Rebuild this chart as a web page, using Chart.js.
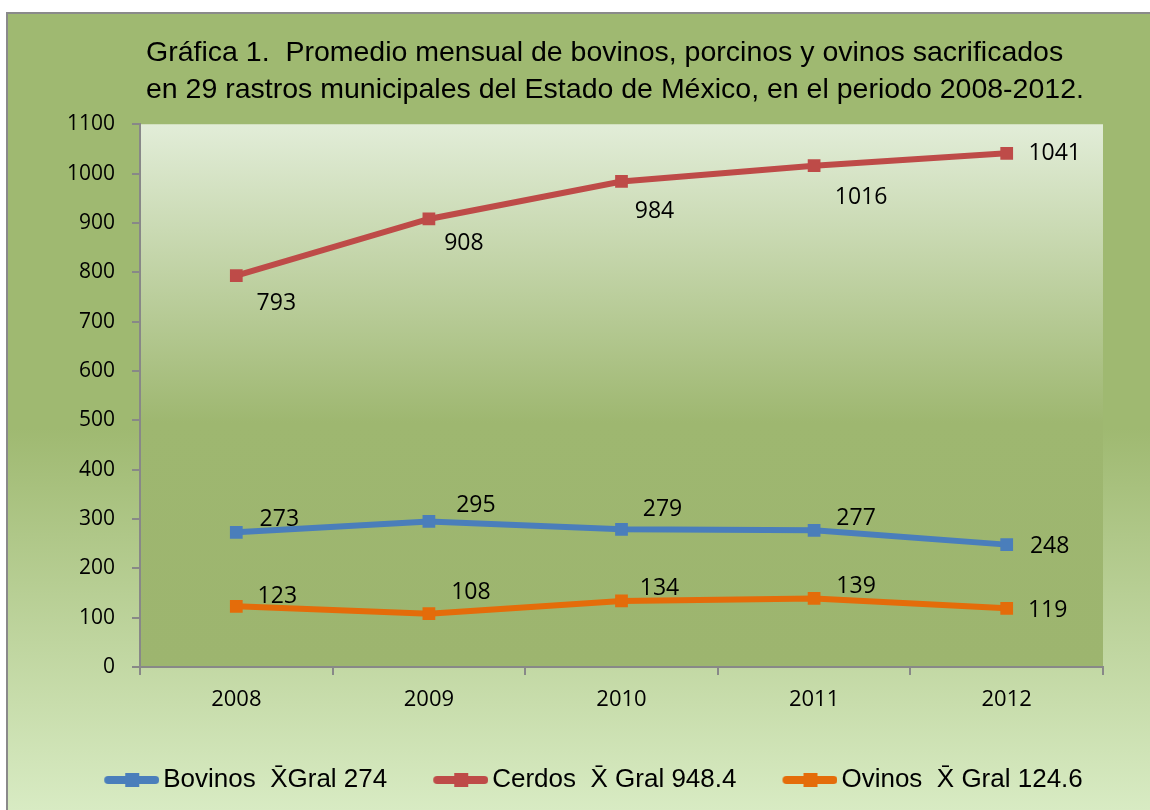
<!DOCTYPE html>
<html lang="es">
<head>
<meta charset="UTF-8">
<title>Gráfica 1</title>
<script src="https://cdn.jsdelivr.net/npm/chart.js"></script>
<style>
  body {
    margin: 0;
    background: #ffffff;
  }
  #frame {
    position: absolute;
    left: 6px;
    top: 12px;
    border-left: 2px solid #8a8a8a;
    border-top: 2px solid #8a8a8a;
    width: 1142px;
    height: 796px;
  }
</style>
</head>
<body>
<div id="frame"><canvas id="chart" width="1142" height="796"></canvas></div>
<script>
// data
const years = ['2008', '2009', '2010', '2011', '2012'];
const bovinos = [273, 295, 279, 277, 248];
const cerdos = [793, 908, 984, 1016, 1041];
const ovinos = [123, 108, 134, 139, 119];
const seriesNames = ['Bovinos  X\u0304Gral 274', 'Cerdos  X\u0304 Gral 948.4', 'Ovinos  X\u0304 Gral 124.6'];
const titleLines = [
  'Gráfica 1.  Promedio mensual de bovinos, porcinos y ovinos sacrificados',
  'en 29 rastros municipales del Estado de México, en el periodo 2008-2012.'
];

const blue = '#4a7ebb';
const red = '#be4b48';
const orange = '#e46c0a';

// where each value label sits relative to its point (moved by hand in the original)
const labelOffsets = [
  [[43, -13], [47, -16], [41, -20], [42, -12], [43, 2]],
  [[40, 28], [35, 24], [33, 30], [47, 32], [48, 0]],
  [[41, -10], [42, -21], [38, -12], [42, -12], [41, 2]]
];

// legend marker: line with a square, drawn in the right part of the image
// so that it starts at the item's left edge and ends just before the text
function legendMarker(color) {
  const c = document.createElement('canvas');
  c.width = 64;
  c.height = 16;
  const g = c.getContext('2d');
  g.strokeStyle = color;
  g.lineWidth = 8;
  g.lineCap = 'round';
  g.beginPath();
  g.moveTo(13, 8);
  g.lineTo(60, 8);
  g.stroke();
  g.fillStyle = color;
  g.fillRect(30, 1, 14, 14);
  return c;
}

const backgrounds = {
  id: 'backgrounds',
  beforeDraw(chart) {
    const ctx = chart.ctx;
    const a = chart.chartArea;
    ctx.save();
    let g = ctx.createLinearGradient(0, 0, 0, chart.height);
    g.addColorStop(0, '#9fb971');
    g.addColorStop(0.52, '#9fb971');
    g.addColorStop(1, '#d8ebc3');
    ctx.fillStyle = g;
    ctx.fillRect(0, 0, chart.width, chart.height);
    g = ctx.createLinearGradient(0, a.top, 0, a.bottom);
    g.addColorStop(0, '#e2edd8');
    g.addColorStop(0.55, '#9eb770');
    g.addColorStop(1, '#9db56f');
    ctx.fillStyle = g;
    ctx.fillRect(a.left, a.top, a.right - a.left, a.bottom - a.top);
    ctx.restore();
  }
};

// nudge title and legend sideways to where the original has them
const nudge = {
  id: 'nudge',
  afterLayout(chart) {
    chart.titleBlock.left += 6;
    chart.titleBlock.right += 6;
    chart.legend.left += 38;
    chart.legend.right += 38;
  }
};

const valueLabels = {
  id: 'valueLabels',
  afterDatasetsDraw(chart) {
    const ctx = chart.ctx;
    ctx.save();
    ctx.font = '23px "Open Sans"';
    ctx.fillStyle = '#000000';
    ctx.textAlign = 'center';
    ctx.textBaseline = 'middle';
    chart.data.datasets.forEach((ds, i) => {
      const meta = chart.getDatasetMeta(i);
      meta.data.forEach((pt, j) => {
        const off = labelOffsets[i][j];
        ctx.fillText(String(ds.data[j]), pt.x + off[0], pt.y + off[1]);
      });
    });
    ctx.restore();
  }
};

function lineSet(label, data, color) {
  return {
    label: label,
    data: data,
    borderColor: color,
    backgroundColor: color,
    borderWidth: 6,
    pointStyle: 'rect',
    pointRadius: 9,
    pointHoverRadius: 9,
    pointBorderWidth: 0,
    pointBackgroundColor: color,
    tension: 0,
    fill: false
  };
}

const markers = [legendMarker(blue), legendMarker(red), legendMarker(orange)];

new Chart(document.getElementById('chart'), {
  type: 'line',
  data: {
    labels: years,
    datasets: [
      lineSet(seriesNames[0], bovinos, blue),
      lineSet(seriesNames[1], cerdos, red),
      lineSet(seriesNames[2], ovinos, orange)
    ]
  },
  options: {
    responsive: false,
    animation: false,
    layout: { padding: { left: 0, right: 47, top: 0, bottom: 7 } },
    scales: {
      x: {
        offset: true,
        grid: { display: true, drawOnChartArea: false, offset: true, tickLength: 8, color: '#888888', lineWidth: 2 },
        border: { display: true, color: '#888888', width: 2 },
        ticks: { color: '#000000', padding: 12, font: { family: '"Open Sans"', size: 22 } },
        afterFit(scale) { scale.height = 54; }
      },
      y: {
        min: 0,
        max: 1100,
        ticks: {
          stepSize: 100,
          color: '#000000',
          padding: 17,
          font: { family: '"Open Sans"', size: 21 },
          callback: (v) => String(v)
        },
        grid: { display: true, drawOnChartArea: false, tickLength: 8, color: '#888888', lineWidth: 2 },
        border: { display: true, color: '#888888', width: 2 },
        afterFit(scale) { scale.width = 132; }
      }
    },
    plugins: {
      title: {
        display: true,
        text: titleLines,
        fullSize: false,
        align: 'start',
        color: '#000000',
        font: { family: '"Liberation Sans", Arial, sans-serif', size: 28.5, weight: 'normal', lineHeight: 1.32 },
        padding: { top: 20, bottom: 15 }
      },
      legend: {
        position: 'bottom',
        labels: {
          usePointStyle: true,
          pointStyleWidth: 46,
          padding: 46,
          color: '#000000',
          font: { family: '"Liberation Sans", Arial, sans-serif', size: 26 },
          generateLabels(chart) {
            return chart.data.datasets.map((ds, i) => ({
              text: ds.label,
              pointStyle: markers[i],
              fillStyle: ds.borderColor,
              strokeStyle: ds.borderColor,
              lineWidth: 0,
              hidden: false,
              datasetIndex: i,
              fontColor: '#000000'
            }));
          }
        }
      },
      tooltip: { enabled: false }
    }
  },
  plugins: [backgrounds, nudge, valueLabels]
});
</script>
</body>
</html>
